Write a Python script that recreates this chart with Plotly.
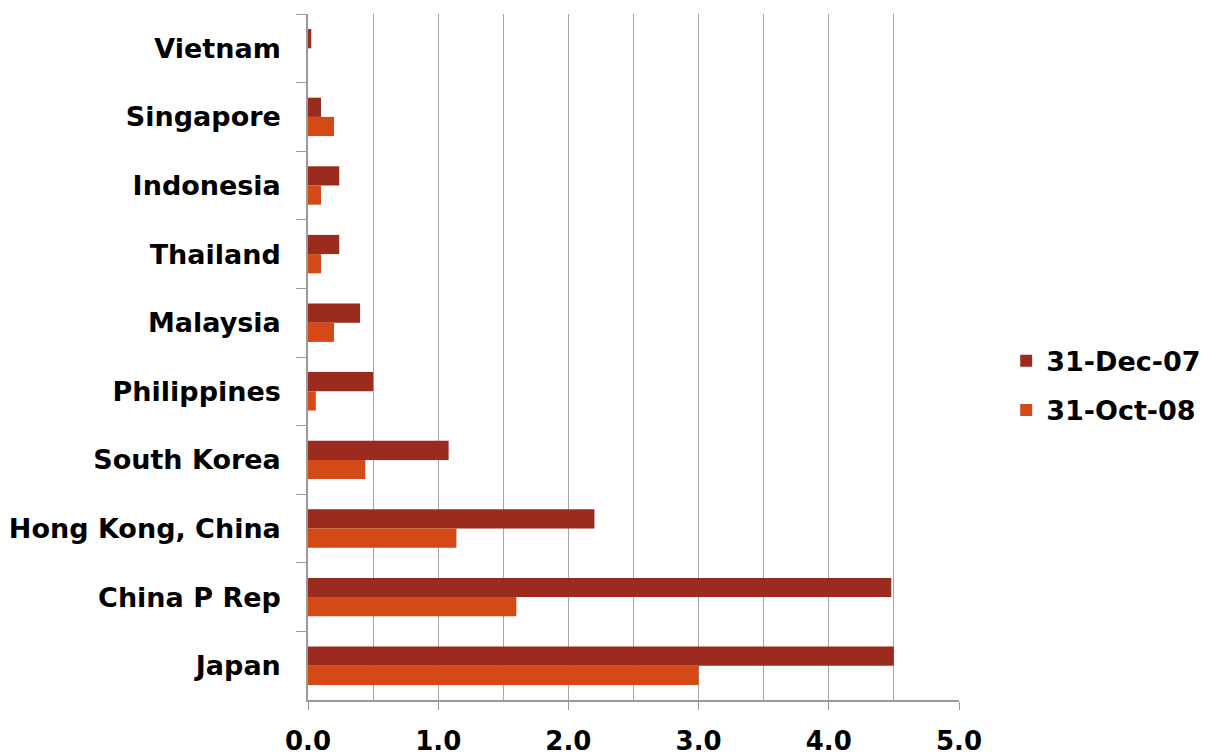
import plotly.graph_objects as go

countries = ["Vietnam", "Singapore", "Indonesia", "Thailand", "Malaysia",
             "Philippines", "South Korea", "Hong Kong, China", "China P Rep", "Japan"]
dec07 = [0.025, 0.10, 0.24, 0.24, 0.40, 0.50, 1.08, 2.20, 4.48, 4.50]
oct08 = [0.0, 0.20, 0.10, 0.10, 0.20, 0.06, 0.44, 1.14, 1.60, 3.00]
x_ticks = [0, 1, 2, 3, 4, 5]

FONT = "DejaVu Sans"
GRID = "#a6a6a6"

fig = go.Figure()
fig.add_trace(go.Bar(y=countries, x=dec07, orientation="h", name="31-Dec-07",
                     marker=dict(color="#9b2b1f", line=dict(width=0)),
                     legendgroup="a"))
fig.add_trace(go.Bar(y=countries, x=oct08, orientation="h", name="31-Oct-08",
                     marker=dict(color="#d34a17", line=dict(width=0)),
                     legendgroup="b"))

fig.update_layout(
    width=1206, height=755,
    margin=dict(l=308, r=247, t=14, b=55, autoexpand=False),
    paper_bgcolor="white", plot_bgcolor="white",
    barmode="group", bargap=0.44, bargroupgap=0,
    font=dict(family=FONT, size=26, color="black"),
    legend=dict(x=1.0725, xanchor="left", y=0.458, yanchor="middle",
                font=dict(family=FONT, size=27, color="black", weight="bold"),
                tracegroupgap=11, bgcolor="rgba(0,0,0,0)"),
    xaxis=dict(range=[0, 5], tickvals=x_ticks, tickformat=".1f",
               showgrid=True, gridcolor=GRID, gridwidth=1,
               minor=dict(dtick=0.5, showgrid=True, gridcolor=GRID, gridwidth=1),
               showline=True, linecolor="#999999", linewidth=1.5,
               ticks="outside", ticklen=8, tickcolor="#999999",
               ticklabelstandoff=9, automargin=False,
               tickfont=dict(family=FONT, size=26, color="black", weight="bold"),
               zeroline=False, fixedrange=True),
    yaxis=dict(autorange="reversed", showgrid=False,
               showline=True, linecolor="#999999", linewidth=1.5,
               ticks="outside", ticklen=10, tickcolor="#999999",
               tickson="boundaries", ticklabelstandoff=20, automargin=False,
               tickfont=dict(family=FONT, size=27, color="black", weight="bold"),
               fixedrange=True),
)

fig.write_html("out.html")
